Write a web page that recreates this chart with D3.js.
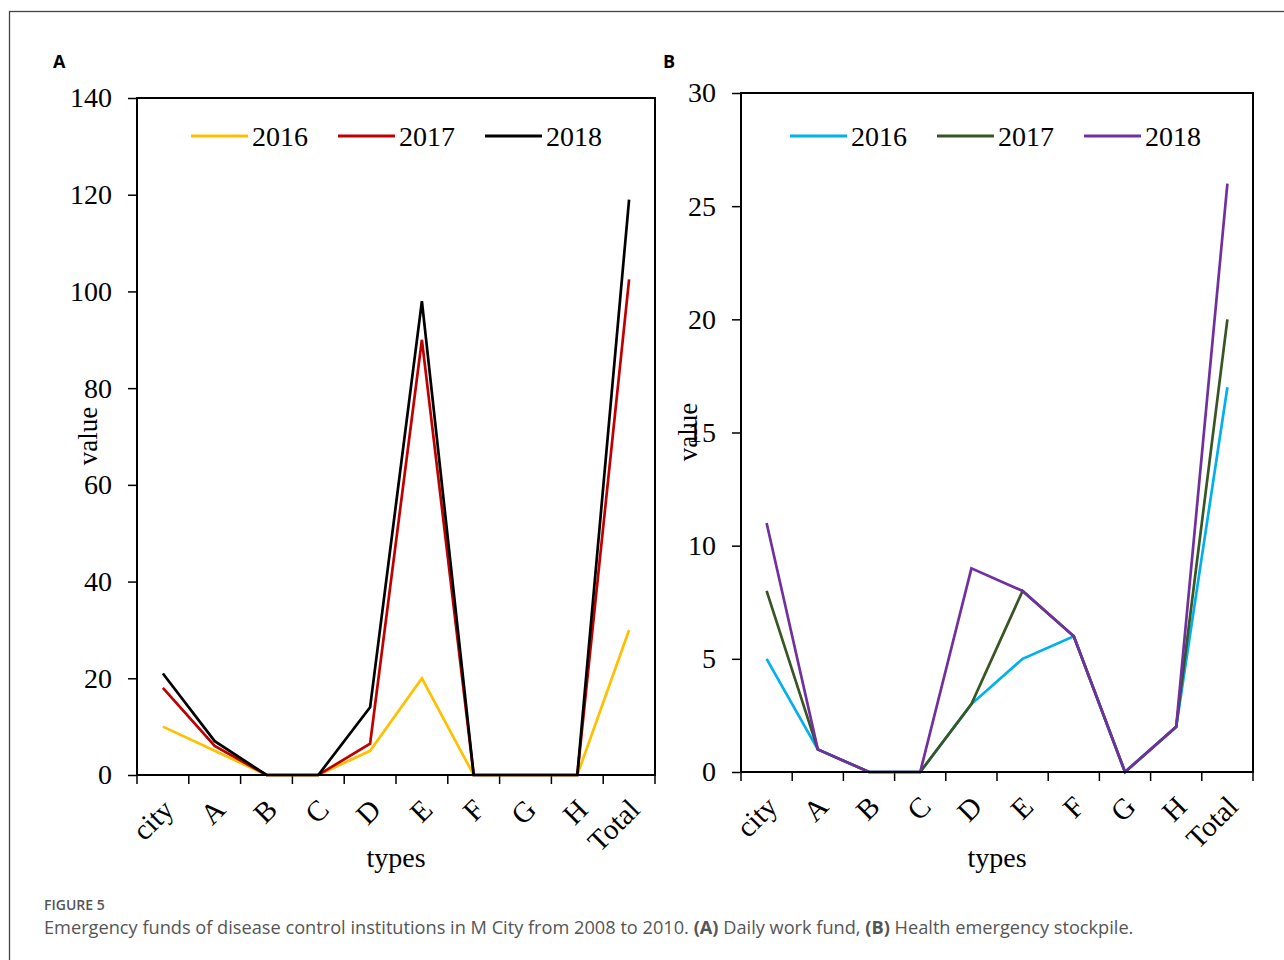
<!DOCTYPE html>
<html>
<head>
<meta charset="utf-8">
<script src="https://cdn.jsdelivr.net/npm/d3@7"></script>
<style>
  body { margin: 0; background: #fff; }
  svg { display: block; }
</style>
</head>
<body>
<div id="chart"></div>
<script>
// categories on the x axis
const types = ["city", "A", "B", "C", "D", "E", "F", "G", "H", "Total"];
const years = ["2016", "2017", "2018"];

// panel A: daily work fund
const fund2016 = [10, 5, 0, 0, 5, 20, 0, 0, 0, 30];
const fund2017 = [18, 6, 0, 0, 6.5, 90, 0, 0, 0, 102.5];
const fund2018 = [21, 7, 0, 0, 14, 98, 0, 0, 0, 119];
const ticksA = [0, 20, 40, 60, 80, 100, 120, 140];

// panel B: health emergency stockpile
const stock2016 = [5, 1, 0, 0, 3, 5, 6, 0, 2, 17];
const stock2017 = [8, 1, 0, 0, 3, 8, 6, 0, 2, 20];
const stock2018 = [11, 1, 0, 0, 9, 8, 6, 0, 2, 26];
const ticksB = [0, 5, 10, 15, 20, 25, 30];

const width = 1284;
const height = 960;
const serif = "'Liberation Serif', 'Times New Roman', serif";

const svg = d3.select("#chart")
  .append("svg")
  .attr("width", width)
  .attr("height", height);

// outer figure frame
svg.append("rect")
  .attr("x", 9.5).attr("y", 11.5)
  .attr("width", 1300).attr("height", 1000)
  .attr("fill", "none")
  .attr("stroke", "#444")
  .attr("stroke-width", 1.3);

function drawPanel(opt) {
  const g = svg.append("g");

  const x = d3.scaleBand()
    .domain(types)
    .range([opt.left, opt.right]);

  const y = d3.scaleLinear()
    .domain([0, opt.max])
    .range([opt.bottom, opt.top]);

  // y axis ticks and labels
  const yAxis = g.append("g")
    .attr("transform", `translate(${opt.left},0)`)
    .call(d3.axisLeft(y).tickValues(opt.ticks).tickSize(9).tickPadding(16));
  yAxis.select(".domain").remove();
  yAxis.selectAll("line").attr("stroke", "#000").attr("stroke-width", 1.5);
  yAxis.selectAll("text")
    .attr("font-family", serif)
    .attr("font-size", 28)
    .attr("fill", "#000");

  // x tick marks at category boundaries
  const bounds = types.map(d => x(d)).concat([opt.right]);
  g.append("g")
    .selectAll("line")
    .data(bounds)
    .enter().append("line")
    .attr("x1", d => d).attr("x2", d => d)
    .attr("y1", opt.bottom).attr("y2", opt.bottom + 9)
    .attr("stroke", "#000")
    .attr("stroke-width", 1.5);

  // rotated category labels
  g.append("g")
    .selectAll("text")
    .data(types)
    .enter().append("text")
    .attr("transform", d => `translate(${x(d) + x.bandwidth() / 2 - 2},${opt.bottom + 22}) rotate(-45)`)
    .attr("text-anchor", "end")
    .attr("dy", "0.7em")
    .attr("font-family", serif)
    .attr("font-size", 29)
    .attr("fill", "#000")
    .text(d => d);

  // series lines
  const line = d3.line()
    .x((d, i) => x(types[i]) + x.bandwidth() / 2)
    .y(d => y(d));

  g.append("g")
    .selectAll("path")
    .data(opt.series)
    .enter().append("path")
    .attr("d", d => line(d.values))
    .attr("fill", "none")
    .attr("stroke", d => d.color)
    .attr("stroke-width", 2.7)
    .attr("stroke-linejoin", "miter");

  // plot frame
  g.append("rect")
    .attr("x", opt.left).attr("y", opt.top)
    .attr("width", opt.right - opt.left)
    .attr("height", opt.bottom - opt.top)
    .attr("fill", "none")
    .attr("stroke", "#000")
    .attr("stroke-width", 2);

  // legend
  const leg = g.append("g")
    .selectAll("g")
    .data(opt.series)
    .enter().append("g")
    .attr("transform", (d, i) => `translate(${opt.legendX + i * opt.legendStep},${opt.legendY})`);
  leg.append("line")
    .attr("x1", 0).attr("x2", 57)
    .attr("stroke", d => d.color)
    .attr("stroke-width", 2.8);
  leg.append("text")
    .attr("x", 61)
    .attr("dy", "0.35em")
    .attr("font-family", serif)
    .attr("font-size", 28)
    .attr("fill", "#000")
    .text(d => d.name);

  // axis titles
  g.append("text")
    .attr("transform", `translate(${opt.valueX},${opt.valueY}) rotate(-90)`)
    .attr("text-anchor", "middle")
    .attr("font-family", serif)
    .attr("font-size", 27)
    .attr("fill", "#000")
    .text("value");

  g.append("text")
    .attr("x", (opt.left + opt.right) / 2)
    .attr("y", 867)
    .attr("text-anchor", "middle")
    .attr("font-family", serif)
    .attr("font-size", 28)
    .attr("fill", "#000")
    .text("types");

  // panel letter
  g.append("text")
    .attr("x", opt.letterX)
    .attr("y", 68)
    .attr("font-family", "'Open Sans', 'DejaVu Sans', sans-serif")
    .attr("font-weight", "bold")
    .attr("font-size", 18)
    .attr("fill", "#000")
    .text(opt.letter);
}

drawPanel({
  letter: "A", letterX: 53,
  left: 137, right: 655, top: 98, bottom: 775,
  max: 140, ticks: ticksA,
  legendX: 191, legendStep: 147, legendY: 136,
  valueX: 97, valueY: 436,
  series: [
    { name: years[0], values: fund2016, color: "#FFC000" },
    { name: years[1], values: fund2017, color: "#C00000" },
    { name: years[2], values: fund2018, color: "#000000" }
  ]
});

drawPanel({
  letter: "B", letterX: 663,
  left: 741, right: 1253, top: 93, bottom: 772,
  max: 30, ticks: ticksB,
  legendX: 790, legendStep: 147, legendY: 136,
  valueX: 697, valueY: 432,
  series: [
    { name: years[0], values: stock2016, color: "#00B0F0" },
    { name: years[1], values: stock2017, color: "#375623" },
    { name: years[2], values: stock2018, color: "#7030A0" }
  ]
});

// caption
svg.append("text")
  .attr("x", 44).attr("y", 910)
  .attr("font-family", "'Open Sans', sans-serif")
  .attr("font-weight", "600")
  .attr("font-size", 14)
  .attr("fill", "#555")
  .text("FIGURE 5");

const cap = svg.append("text")
  .attr("x", 44).attr("y", 934)
  .attr("font-family", "'Open Sans', sans-serif")
  .attr("font-size", 18.2)
  .attr("fill", "#555");
cap.append("tspan").text("Emergency funds of disease control institutions in M City from 2008 to 2010. ");
cap.append("tspan").attr("font-weight", "bold").text("(A)");
cap.append("tspan").text(" Daily work fund, ");
cap.append("tspan").attr("font-weight", "bold").text("(B)");
cap.append("tspan").text(" Health emergency stockpile.");
</script>
</body>
</html>
